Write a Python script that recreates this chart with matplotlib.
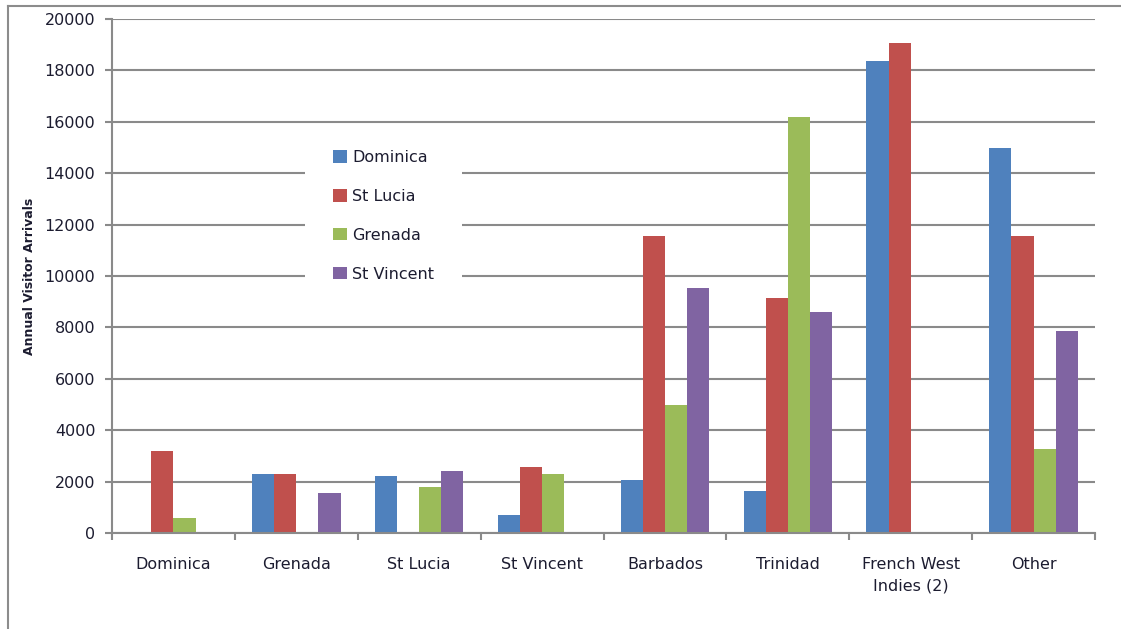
import matplotlib
matplotlib.use("Agg")
import matplotlib.pyplot as plt
import numpy as np
from matplotlib.lines import Line2D
from matplotlib.patches import Rectangle

categories = ["Dominica", "Grenada", "St Lucia", "St Vincent", "Barbados",
              "Trinidad", "French West\nIndies (2)", "Other"]
series_names = ["Dominica", "St Lucia", "Grenada", "St Vincent"]
dominica = [0, 2300, 2200, 700, 2050, 1650, 18350, 15000]
st_lucia = [3200, 2300, 0, 2550, 11550, 9150, 19050, 11550]
grenada = [600, 0, 1800, 2300, 5000, 16200, 0, 3250]
st_vincent = [0, 1550, 2400, 0, 9550, 8600, 0, 7850]
y_ticks = [0, 2000, 4000, 6000, 8000, 10000, 12000, 14000, 16000, 18000, 20000]

colors = ["#4F81BD", "#C0504D", "#9BBB59", "#8064A2"]
text_color = "#1c1c30"
grid_color = "#8a8a8a"

plt.rcParams['font.family'] = ['DejaVu Sans']

W, H = 1121, 629
fig = plt.figure(figsize=(W / 100, H / 100), dpi=100)
ax = fig.add_axes([112 / W, 1 - 533 / H, (1095 - 112) / W, (533 - 19) / H])

x = np.arange(len(categories))
bw = 0.18
all_series = [dominica, st_lucia, grenada, st_vincent]
for i, (vals, name, c) in enumerate(zip(all_series, series_names, colors)):
    ax.bar(x + (i - 1.5) * bw, vals, width=bw, color=c, label=name,
           zorder=3, linewidth=0)

ax.set_xlim(-0.5, len(categories) - 0.5)
ax.set_ylim(0, 20000)
ax.set_yticks(y_ticks)
ax.set_yticklabels([str(v) for v in y_ticks])
ax.yaxis.grid(True, color=grid_color, linewidth=1.5, zorder=0)
ax.set_axisbelow(True)

# category ticks at boundaries, labels at centers
ax.set_xticks(np.arange(-0.5, len(categories), 1.0))
ax.set_xticklabels([])
ax.set_xticks(x, minor=True)
ax.set_xticklabels(categories, minor=True, fontsize=11.5, color=text_color,
                   linespacing=1.55, va='top')
ax.tick_params(axis='x', which='minor', length=0, pad=17)
ax.tick_params(axis='x', which='major', length=5, width=1.5, color=grid_color,
               direction='out')
ax.tick_params(axis='y', length=5, width=1.5, color=grid_color, pad=7,
               labelsize=11.5, labelcolor=text_color)

for s in ['top', 'right']:
    ax.spines[s].set_visible(False)
for s in ['left', 'bottom']:
    ax.spines[s].set_color(grid_color)
    ax.spines[s].set_linewidth(1.5)
    ax.spines[s].set_zorder(4)

ax.set_ylabel("Annual Visitor Arrivals", fontsize=9, fontweight='bold',
              color=text_color)
ax.yaxis.set_label_coords(-0.077, 0.5)

# white legend background box
ax.add_patch(Rectangle((305 / W, 1 - 300 / H), (462 - 305) / W, (300 - 130) / H,
                       transform=fig.transFigure, facecolor='white',
                       edgecolor='none', zorder=2))

leg = ax.legend(loc='upper left', bbox_to_anchor=(333 / W, 1 - 150 / H),
                bbox_transform=fig.transFigure, borderaxespad=0,
                frameon=False, fontsize=11.5, labelspacing=1.5,
                handlelength=0.85, handleheight=0.8, handletextpad=0.35,
                borderpad=0)
for t in leg.get_texts():
    t.set_color(text_color)
leg.set_zorder(5)

# outer chart border (top and left)
fig.add_artist(Line2D([8 / W, 1], [1 - 6 / H, 1 - 6 / H],
                      transform=fig.transFigure, color="#8c8c8c", linewidth=1.5))
fig.add_artist(Line2D([8 / W, 8 / W], [0, 1 - 6 / H],
                      transform=fig.transFigure, color="#8c8c8c", linewidth=1.5))

fig.savefig("out.png", dpi=100)
